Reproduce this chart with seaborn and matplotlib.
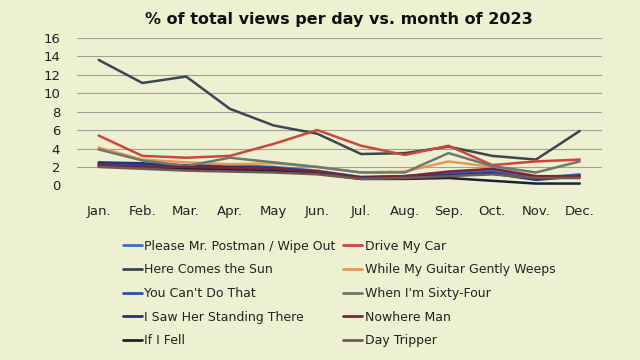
import matplotlib
matplotlib.use("Agg")
import matplotlib.pyplot as plt
import seaborn as sns
import pandas as pd

months = ["Jan.", "Feb.", "Mar.", "Apr.", "May", "Jun.", "Jul.", "Aug.", "Sep.", "Oct.", "Nov.", "Dec."]

postman = [2.4, 2.3, 2.2, 2.2, 2.0, 1.6, 0.9, 1.0, 1.3, 1.6, 0.8, 1.2]
drive_my_car = [5.4, 3.2, 3.0, 3.2, 4.5, 6.0, 4.3, 3.3, 4.3, 2.2, 2.6, 2.8]
here_comes_sun = [13.6, 11.1, 11.8, 8.3, 6.5, 5.6, 3.4, 3.5, 4.2, 3.2, 2.8, 5.9]
guitar_weeps = [4.1, 2.8, 2.5, 2.3, 2.4, 2.0, 1.4, 1.5, 2.6, 2.0, 1.0, 1.0]
cant_do_that = [2.3, 2.2, 2.0, 2.0, 1.8, 1.4, 0.8, 0.9, 1.2, 1.4, 0.7, 1.1]
sixty_four = [3.9, 2.7, 2.1, 3.0, 2.5, 2.0, 1.4, 1.4, 3.5, 2.1, 1.4, 2.6]
saw_her = [2.5, 2.4, 2.1, 2.0, 1.9, 1.5, 0.9, 1.0, 1.1, 1.3, 0.6, 1.0]
nowhere_man = [2.2, 2.0, 2.0, 1.9, 1.8, 1.5, 0.8, 1.0, 1.5, 1.8, 1.0, 1.0]
if_i_fell = [2.1, 2.0, 1.8, 1.7, 1.6, 1.3, 0.7, 0.7, 0.8, 0.5, 0.2, 0.2]
day_tripper = [2.0, 1.8, 1.6, 1.5, 1.4, 1.2, 0.7, 0.8, 1.0, 1.2, 0.8, 0.8]

series = {
    "Please Mr. Postman / Wipe Out": postman,
    "Here Comes the Sun": here_comes_sun,
    "You Can't Do That": cant_do_that,
    "I Saw Her Standing There": saw_her,
    "If I Fell": if_i_fell,
    "Drive My Car": drive_my_car,
    "While My Guitar Gently Weeps": guitar_weeps,
    "When I'm Sixty-Four": sixty_four,
    "Nowhere Man": nowhere_man,
    "Day Tripper": day_tripper,
}
colors = ["#3d6fc4", "#3a4650", "#2d4fb0", "#22357a", "#1c2133",
          "#d0453a", "#e8965a", "#6b7a6b", "#7a2438", "#6e5a55"]

rows = []
for name, vals in series.items():
    for m, v in zip(months, vals):
        rows.append({"month": m, "value": v, "song": name})
df = pd.DataFrame(rows)

sns.set_theme(style="white")
plt.rcParams["font.family"] = ["DejaVu Sans"]
bg = "#eef0d2"
fig = plt.figure(figsize=(6.4, 3.6), dpi=100, facecolor=bg)
ax = fig.add_axes([0.12, 0.485, 0.82, 0.41], facecolor=bg)

sns.lineplot(data=df, x="month", y="value", hue="song", hue_order=list(series.keys()),
             palette=colors, sort=False, linewidth=1.8, ax=ax, legend=False)

ax.set_ylim(0, 16)
ax.set_yticks(range(0, 17, 2))
ax.set_xlim(-0.5, 11.5)
ax.grid(axis="y", color="#a0a298", linewidth=0.8)
for s in ax.spines.values():
    s.set_visible(False)
ax.set_xlabel("")
ax.set_ylabel("")
ax.tick_params(axis="both", labelsize=9.5, colors="#222222", length=0)
ax.tick_params(axis="x", pad=14)
ax.tick_params(axis="y", pad=12)
ax.set_title("% of total views per day vs. month of 2023", fontsize=11.5, fontweight="bold",
             color="#111111", pad=10)

handles = [plt.Line2D([], [], color=c, linewidth=2) for c in colors]
fig.legend(handles, list(series.keys()), ncol=2, loc="upper center",
           bbox_to_anchor=(0.53, 0.365), frameon=False, fontsize=9,
           handlelength=1.5, handletextpad=0.2, columnspacing=0.6,
           labelspacing=0.85, labelcolor="#222222")

fig.savefig("out.png", dpi=100, facecolor=bg)
